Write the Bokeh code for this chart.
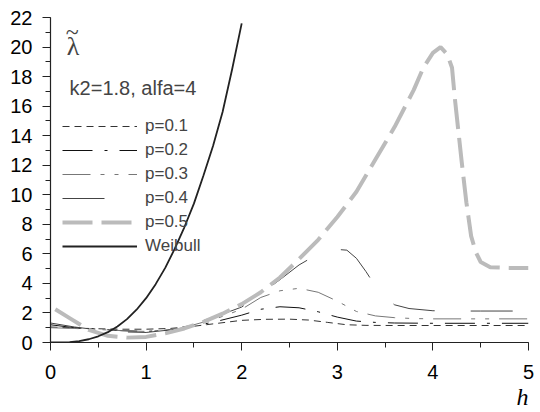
from bokeh.plotting import figure
from bokeh.models import Range1d, Legend, LegendItem, Label, SingleIntervalTicker, Title
from bokeh.embed import file_html
from bokeh.resources import INLINE

# ---- data ----
h_w = [0.0, 0.1, 0.2, 0.3, 0.4, 0.5, 0.6, 0.7, 0.8, 0.9, 1.0, 1.1, 1.2, 1.3, 1.4, 1.5, 1.6, 1.7, 1.8, 1.9, 2.0]
weibull = [0.0, 0.004, 0.03, 0.10, 0.22, 0.42, 0.70, 1.08, 1.58, 2.22, 3.0, 3.95, 5.05, 6.35, 7.8, 9.4, 11.3, 13.3, 15.6, 18.5, 21.6]

h_p1 = [0, 0.25, 0.5, 0.75, 1.0, 1.25, 1.5, 1.75, 2.0, 2.25, 2.5, 2.7, 2.9, 3.1, 3.3, 3.6, 4.0, 4.5, 5.0]
p1 = [1.05, 0.98, 0.93, 0.9, 0.9, 0.95, 1.1, 1.3, 1.5, 1.57, 1.58, 1.52, 1.36, 1.2, 1.16, 1.15, 1.15, 1.15, 1.15]

h_p2 = [0, 0.25, 0.5, 0.75, 1.0, 1.25, 1.5, 1.75, 2.0, 2.2, 2.4, 2.6, 2.8, 3.0, 3.2, 3.4, 3.6, 4.0, 4.5, 5.0]
p2 = [1.2, 1.0, 0.9, 0.8, 0.75, 0.85, 1.1, 1.45, 1.85, 2.25, 2.42, 2.35, 2.08, 1.72, 1.45, 1.36, 1.32, 1.3, 1.3, 1.3]

h_p3 = [0, 0.25, 0.5, 0.75, 1.0, 1.25, 1.5, 1.75, 2.0, 2.2, 2.4, 2.6, 2.8, 3.0, 3.2, 3.4, 3.6, 3.8, 4.0, 4.5, 5.0]
p3 = [1.0, 0.95, 0.88, 0.8, 0.75, 0.88, 1.2, 1.65, 2.25, 3.05, 3.5, 3.67, 3.4, 2.8, 2.1, 1.8, 1.68, 1.62, 1.6, 1.6, 1.6]

h_p4 = [0, 0.25, 0.5, 0.75, 1.0, 1.25, 1.5, 1.75, 2.0, 2.2, 2.4, 2.6, 2.8, 3.0, 3.1, 3.2, 3.3, 3.4, 3.5, 3.6, 3.75, 4.0, 4.25, 4.5, 5.0]
p4 = [1.32, 1.05, 0.85, 0.72, 0.68, 0.85, 1.3, 1.8, 2.4, 3.3, 4.25, 5.25, 6.0, 6.3, 6.25, 5.7, 4.8, 3.8, 3.0, 2.55, 2.3, 2.15, 2.13, 2.13, 2.13]

h_p5 = [0.05, 0.2, 0.4, 0.6, 0.8, 1.0, 1.2, 1.4, 1.6, 1.8, 2.0, 2.2, 2.4, 2.6, 2.8, 3.0, 3.2, 3.4, 3.6, 3.8, 3.9, 4.0, 4.08, 4.15, 4.2, 4.23, 4.27, 4.3, 4.35, 4.4, 4.45, 4.5, 4.6, 4.8, 5.0]
p5 = [2.25, 1.65, 0.85, 0.45, 0.33, 0.38, 0.62, 0.95, 1.4, 1.95, 2.6, 3.4, 4.4, 5.65, 6.95, 8.5, 10.2, 12.4, 14.6, 17.1, 18.6, 19.6, 20.0, 19.5, 18.6, 16.5, 14.1, 12.3, 9.5, 7.2, 6.1, 5.45, 5.1, 5.05, 5.05]

labels = ["p=0.1", "p=0.2", "p=0.3", "p=0.4", "p=0.5", "Weibull"]

FONT = "Liberation Sans"

p = figure(width=538, height=412, output_backend="svg", toolbar_location=None,
           x_range=Range1d(0, 5), y_range=Range1d(0, 22),
           min_border_left=50, min_border_right=10, min_border_top=17, min_border_bottom=70)
p.outline_line_color = None
p.grid.visible = False
p.background_fill_color = "white"
p.border_fill_color = "white"

p.xaxis.ticker = SingleIntervalTicker(interval=1, num_minor_ticks=2)
p.yaxis.ticker = SingleIntervalTicker(interval=2, num_minor_ticks=2)
for ax in (p.xaxis[0], p.yaxis[0]):
    ax.axis_line_color = "#222222"
    ax.axis_line_width = 1.2
    ax.major_tick_line_color = "#222222"
    ax.minor_tick_line_color = "#222222"
    ax.major_tick_in = 0
    ax.major_tick_out = 8
    ax.minor_tick_in = 0
    ax.minor_tick_out = 5
    ax.major_label_text_font = FONT
    ax.major_label_text_font_size = "20px"
    ax.major_label_text_color = "black"
p.xaxis.major_label_standoff = 14
p.yaxis.major_label_standoff = 10

r1 = p.line(h_p1, p1, line_color="#333333", line_width=1, line_dash="7 5")
r2 = p.line(h_p2, p2, line_color="#111111", line_width=1, line_dash="30 12 3 12")
r3 = p.line(h_p3, p3, line_color="#777777", line_width=1, line_dash="28 10 4 10 4 10")
r4 = p.line(h_p4, p4, line_color="#444444", line_width=1, line_dash="42 36")
r5 = p.line(h_p5, p5, line_color="#bbbbbb", line_width=4, line_dash="30 9")
r6 = p.line(h_w, weibull, line_color="#222222", line_width=1.8)

legend = Legend(items=[LegendItem(label=l, renderers=[r]) for l, r in zip(labels, [r1, r2, r3, r4, r5, r6])],
                location=(12, 86), glyph_width=75, glyph_height=20, label_height=20,
                spacing=4, padding=0, margin=0, label_standoff=8,
                label_text_font=FONT, label_text_font_size="17px",
                background_fill_alpha=0, border_line_alpha=0)
p.add_layout(legend)

p.add_layout(Label(x=0.17, y=20.05, text="λ", text_font="Liberation Serif",
                   text_font_size="26px", text_baseline="alphabetic", text_align="left"))
p.add_layout(Label(x=0.16, y=21.0, text="~", text_font="Liberation Serif",
                   text_font_size="24px", text_baseline="alphabetic", text_align="left"))
p.add_layout(Label(x=0.2, y=17.23, text="k2=1.8, alfa=4", text_font=FONT,
                   text_font_size="20px", text_baseline="alphabetic", text_align="left"))

p.add_layout(Title(text="h", align="right", text_font="Liberation Serif",
                   text_font_style="italic", text_font_size="24px", text_color="black",
                   standoff=0, offset=0, text_line_height=1.0), "below")

open("out.html", "w").write(file_html(p, INLINE))
